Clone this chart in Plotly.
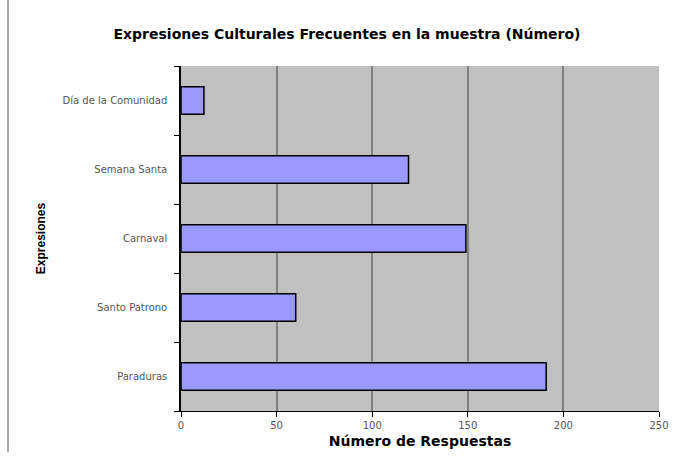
import plotly.graph_objects as go

categories = ["Paraduras", "Santo Patrono", "Carnaval", "Semana Santa", "Día de la Comunidad"]
values = [191, 60, 149, 119, 12]
x_ticks = [0, 50, 100, 150, 200, 250]

W, H = 677, 464
ml, mr, mt, mb = 181, 18, 66, 53

fig = go.Figure(go.Bar(
    y=categories, x=values, orientation="h",
    marker=dict(color="#9999FF", line=dict(color="black", width=1.5)),
    width=0.4,
))

fig.update_layout(
    width=W, height=H,
    margin=dict(l=ml, r=mr, t=mt, b=mb, autoexpand=False),
    paper_bgcolor="white", plot_bgcolor="#C0C0C0",
    showlegend=False,
    font=dict(family="DejaVu Sans", size=10, color="#555"),
    title=dict(text="<b>Expresiones Culturales Frecuentes en la muestra (Número)</b>",
               x=347 / W, xanchor="center", y=1 - 34 / H, yanchor="middle",
               font=dict(family="DejaVu Sans", size=14, color="black")),
)
fig.update_xaxes(
    range=[0, 250], tickvals=x_ticks, ticktext=[str(v) for v in x_ticks],
    showgrid=True, gridcolor="#808080", gridwidth=1.5,
    showline=True, linecolor="black", linewidth=1,
    ticks="outside", ticklen=5, tickcolor="black",
    zeroline=False, automargin=False,
    title=dict(text="<b>Número de Respuestas</b>",
               font=dict(family="DejaVu Sans", size=14, color="black"), standoff=6),
    tickfont=dict(size=10, color="#555"),
)
fig.update_yaxes(
    categoryorder="array", categoryarray=categories,
    showgrid=False, showline=True, linecolor="black", linewidth=1.5,
    ticks="outside", tickson="boundaries", ticklen=5, tickcolor="black",
    automargin=False, ticklabelstandoff=10,
    title=dict(text="<b>Expresiones</b>",
               font=dict(family="Liberation Sans, Arial", size=12, color="black"), standoff=14),
    tickfont=dict(size=10, color="#555"),
)

# page frame line on the left
fig.add_shape(type="line", xref="paper", yref="paper",
              x0=(8 - ml) / (W - ml - mr), x1=(8 - ml) / (W - ml - mr),
              y0=(H - mb - 0) / (H - mt - mb), y1=(H - mb - 452) / (H - mt - mb),
              line=dict(color="#555", width=1))

fig.write_html("out.html", config={"displayModeBar": False},
               post_script="document.body.style.margin='0';document.body.style.overflow='hidden';")
